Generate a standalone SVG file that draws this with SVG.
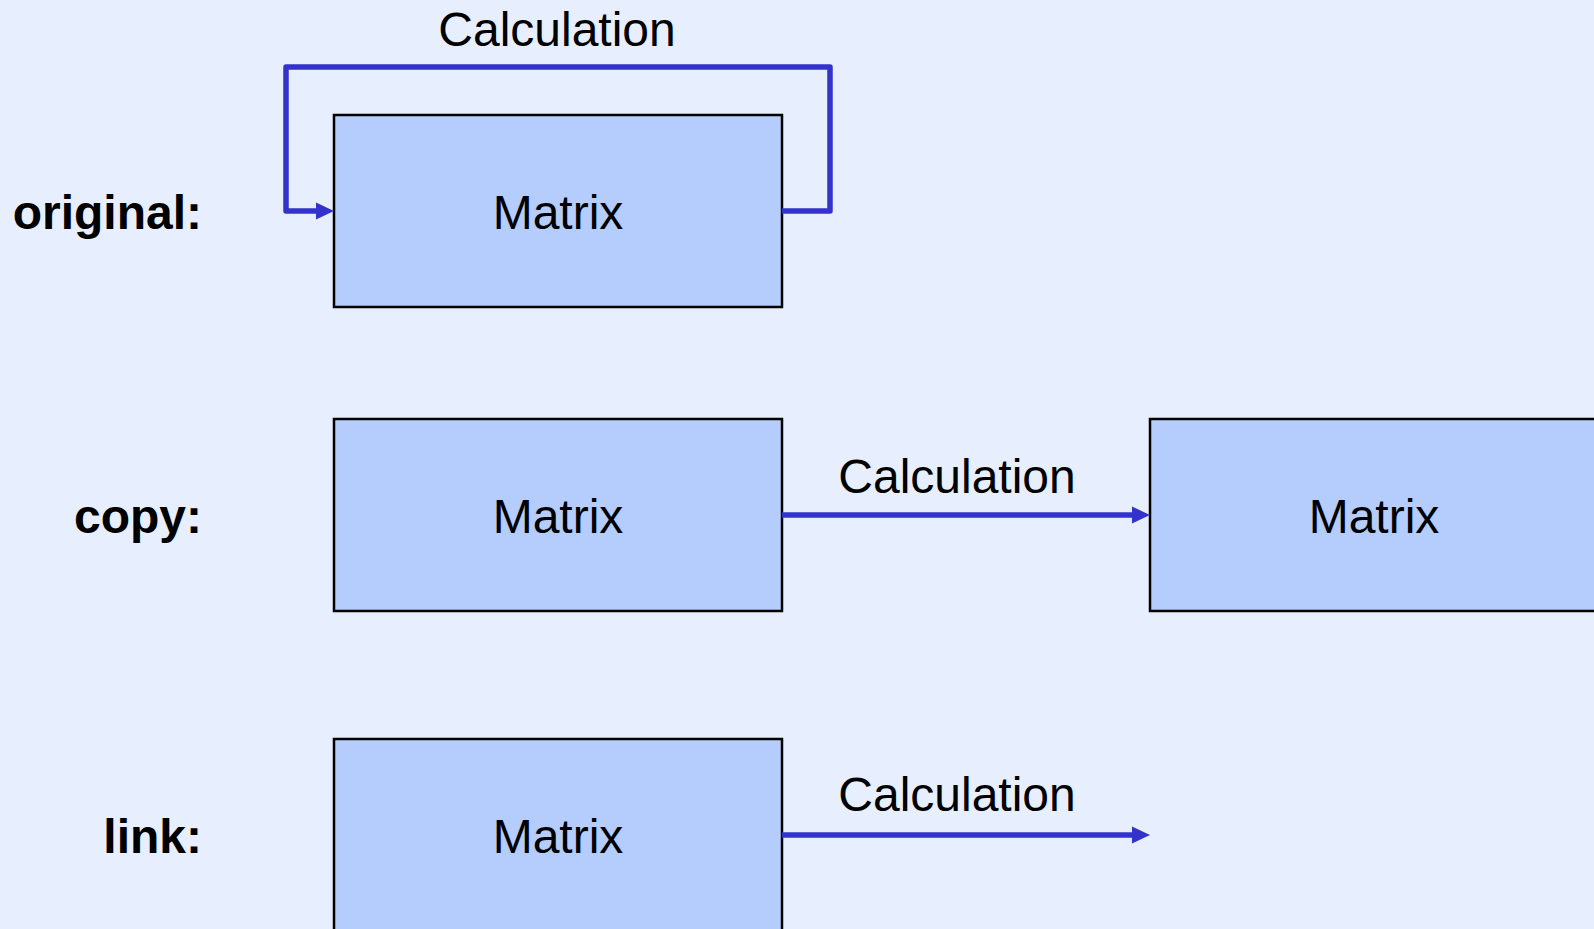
<svg xmlns="http://www.w3.org/2000/svg" width="1594" height="929" viewBox="0 0 1594 929">
<style>
.box{fill:#b5cdfd;stroke:#000;stroke-width:2.5}
.t{font-family:"Liberation Sans",Arial,sans-serif;font-size:48px;fill:#000}
.lbl{font-family:"Liberation Sans",Arial,sans-serif;font-size:48px;font-weight:bold;fill:#000;text-anchor:end}
.c{text-anchor:middle}
.con{fill:none;stroke:#3333cc;stroke-width:5.5;stroke-linejoin:round}
</style>
<defs>
<marker id="ah" markerUnits="userSpaceOnUse" markerWidth="20" markerHeight="20" refX="1" refY="9" orient="auto">
<path d="M0,0.5 L18,9 L0,17.5 Z" fill="#3333cc"/>
</marker>
</defs>
<rect width="1594" height="929" fill="#e7eefd"/>
<g id="labels">
<text class="lbl" x="202" y="229">original:</text>
<text class="lbl" x="202" y="533">copy:</text>
<text class="lbl" x="202" y="853">link:</text>
</g>
<g id="node-original">
<rect class="box" x="334" y="115" width="448" height="192"/>
<text class="t c" x="558" y="229">Matrix</text>
</g>
<g id="node-copy-src">
<rect class="box" x="334" y="419" width="448" height="192"/>
<text class="t c" x="558" y="533">Matrix</text>
</g>
<g id="node-copy-dst">
<rect class="box" x="1150" y="419" width="448" height="192"/>
<text class="t c" x="1374" y="533">Matrix</text>
</g>
<g id="node-link">
<rect class="box" x="334" y="739" width="448" height="200"/>
<text class="t c" x="558" y="853">Matrix</text>
</g>
<g id="connectors">
<path class="con" d="M782,211 H830 V67 H286 V211 H317" marker-end="url(#ah)"/>
<path class="con" d="M782,515 H1133" marker-end="url(#ah)"/>
<path class="con" d="M782,835 H1133" marker-end="url(#ah)"/>
<text class="t c" x="557" y="46">Calculation</text>
<text class="t c" x="957" y="493">Calculation</text>
<text class="t c" x="957" y="811">Calculation</text>
</g>
</svg>
